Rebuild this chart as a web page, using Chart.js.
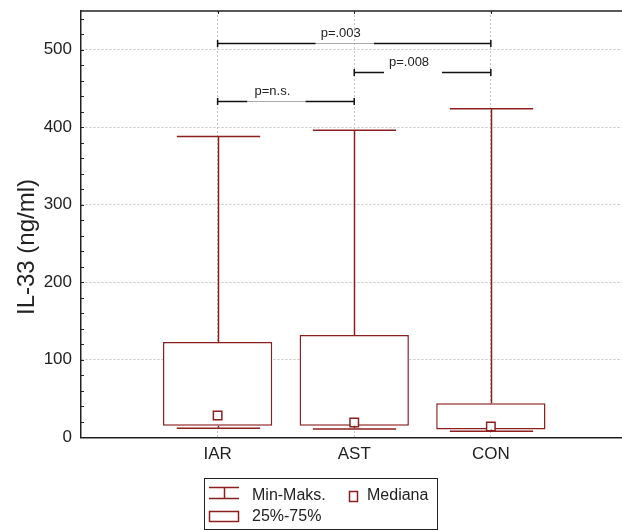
<!DOCTYPE html>
<html>
<head>
<meta charset="utf-8">
<script src="https://cdn.jsdelivr.net/npm/chart.js@4/dist/chart.umd.min.js"></script>
<style>
  html, body { margin: 0; padding: 0; background: #fff; }
  #myChart { display: block; }
</style>
</head>
<body>
<canvas id="myChart" width="622" height="530"></canvas>
<script>
// ==== chart data ====
const groups = ["IAR", "AST", "CON"];
const minVals = [13, 12, 9];
const q1Vals = [15, 15, 10];
const medianVals = [28, 19, 14];
const q3Vals = [123, 132, 44];
const maxVals = [388, 396, 424];
const yTicks = [0, 100, 200, 300, 400, 500];

// pairwise comparisons: [group a, group b], p label, bracket level (ng/ml)
const compPairs = [["IAR", "AST"], ["AST", "CON"], ["IAR", "CON"]];
const compLabels = ["p=n.s.", "p=.008", "p=.003"];
const compLevels = [434, 471, 509];

const FONT = "'Liberation Sans', Arial, Helvetica, sans-serif";
const RED = "#8c1f1f";
const INK = "#222";
const GRID = "#c4c4c4";

const pos = (name) => groups.indexOf(name) + 1;

// ==== whiskers, brackets, frame and legend ====
const extrasPlugin = {
    id: "extras",
    afterDatasetsDraw(chart, args, opts) {
        const { ctx, scales: { x, y } } = chart;
        ctx.save();
        ctx.strokeStyle = RED;
        ctx.lineWidth = 1.5;
        groups.forEach((g, i) => {
            const cx = Math.round(x.getPixelForValue(i + 1)) + 0.5;
            const half = x.getPixelForValue(i + 1 + opts.capWidth / 2) - x.getPixelForValue(i + 1);
            const yMax = y.getPixelForValue(maxVals[i]);
            const yQ3 = y.getPixelForValue(q3Vals[i]);
            const yQ1 = y.getPixelForValue(q1Vals[i]);
            const yMin = y.getPixelForValue(minVals[i]);
            ctx.beginPath();
            ctx.moveTo(cx, yQ3); ctx.lineTo(cx, yMax);
            ctx.moveTo(cx - half, yMax); ctx.lineTo(cx + half, yMax);
            ctx.moveTo(cx, yQ1); ctx.lineTo(cx, yMin);
            ctx.moveTo(cx - half, yMin + 1); ctx.lineTo(cx + half, yMin + 1);
            ctx.stroke();
        });

        // significance brackets
        ctx.font = `13px ${FONT}`;
        ctx.textAlign = "center";
        ctx.textBaseline = "alphabetic";
        compPairs.forEach((pair, i) => {
            const x1 = x.getPixelForValue(pos(pair[0]));
            const x2 = x.getPixelForValue(pos(pair[1]));
            const ly = Math.round(y.getPixelForValue(compLevels[i])) + 0.5;
            const tc = (x1 + x2) / 2 - 13.5;
            ctx.strokeStyle = "#111";
            ctx.lineWidth = 1.5;
            ctx.beginPath();
            ctx.moveTo(x1, ly); ctx.lineTo(tc - 25, ly);
            ctx.moveTo(tc + 33, ly); ctx.lineTo(x2, ly);
            ctx.moveTo(x1, ly - 3.5); ctx.lineTo(x1, ly + 3.5);
            ctx.moveTo(x2, ly - 3.5); ctx.lineTo(x2, ly + 3.5);
            ctx.stroke();
            if (opts.gapColors[i]) {
                ctx.strokeStyle = opts.gapColors[i];
                ctx.lineWidth = 1;
                ctx.beginPath();
                ctx.moveTo(tc - 25, ly); ctx.lineTo(tc + 33, ly);
                ctx.stroke();
            }
            ctx.fillStyle = INK;
            ctx.fillText(compLabels[i], tc, ly - 7);
        });
        ctx.restore();
    },
    afterDraw(chart) {
        const { ctx, chartArea: a, scales: { x, y } } = chart;
        ctx.save();
        // top frame line + ticks
        ctx.strokeStyle = INK;
        ctx.lineWidth = 1.5;
        ctx.beginPath();
        ctx.moveTo(a.left, a.top); ctx.lineTo(a.right, a.top);
        ctx.stroke();
        ctx.lineWidth = 1;
        ctx.beginPath();
        groups.forEach((g, i) => {
            const cx = Math.round(x.getPixelForValue(i + 1)) + 0.5;
            ctx.moveTo(cx, a.top); ctx.lineTo(cx, a.top + 3);
        });
        // minor ticks on the y axis
        for (let v = 20; v <= 540; v += 20) {
            const py = Math.round(y.getPixelForValue(v)) + 0.5;
            ctx.moveTo(a.left, py); ctx.lineTo(a.left + 3, py);
        }
        ctx.stroke();

        // y axis title
        ctx.fillStyle = INK;
        ctx.font = `24px ${FONT}`;
        ctx.textAlign = "center";
        ctx.textBaseline = "middle";
        ctx.translate(27, 247);
        ctx.rotate(-Math.PI / 2);
        ctx.fillText("IL-33 (ng/ml)", 0, 0);
        ctx.setTransform(1, 0, 0, 1, 0, 0);

        // legend
        ctx.strokeStyle = INK;
        ctx.lineWidth = 1;
        ctx.strokeRect(204.5, 478.5, 233, 51);
        ctx.strokeStyle = RED;
        ctx.lineWidth = 1.5;
        ctx.beginPath();
        ctx.moveTo(209, 487.5); ctx.lineTo(239, 487.5);
        ctx.moveTo(209, 498.5); ctx.lineTo(239, 498.5);
        ctx.moveTo(224.5, 487.5); ctx.lineTo(224.5, 498.5);
        ctx.stroke();
        ctx.strokeRect(209.5, 511.5, 29, 10);
        ctx.strokeRect(349.5, 491.5, 8, 10);
        ctx.fillStyle = INK;
        ctx.font = `16px ${FONT}`;
        ctx.textAlign = "left";
        ctx.textBaseline = "alphabetic";
        ctx.fillText("Min-Maks.", 252, 500);
        ctx.fillText("Mediana", 367, 500);
        ctx.fillText("25%-75%", 252, 521);
        ctx.restore();
    }
};

const boxData = groups.map((g, i) => ({ x: i + 1, y: [q1Vals[i], q3Vals[i]] }));
const medianData = groups.map((g, i) => ({ x: i + 1, y: medianVals[i] }));

const config = {
    type: "bar",
    data: {
        datasets: [
            {
                type: "scatter",
                label: "Mediana",
                data: medianData,
                pointStyle: "rect",
                pointRadius: 6,
                pointHoverRadius: 6,
                borderColor: RED,
                backgroundColor: "#fff",
                borderWidth: 1.5,
                order: 0
            },
            {
                label: "25%-75%",
                data: boxData,
                backgroundColor: "#fff",
                borderColor: RED,
                borderWidth: 1.5,
                borderSkipped: false,
                categoryPercentage: 1,
                barPercentage: 0.8,
                order: 1
            }
        ]
    },
    options: {
        responsive: false,
        animation: false,
        devicePixelRatio: 1,
        layout: { autoPadding: false, padding: { top: 11, right: 0, left: 0, bottom: 0 } },
        plugins: {
            legend: { display: false },
            tooltip: { enabled: false },
            extras: { capWidth: 0.61, gapColors: ["#a8a8a8", null, "#a8a8a8"] }
        },
        scales: {
            x: {
                type: "linear",
                offset: false,
                min: 0,
                max: 3.96,
                afterBuildTicks: (s) => { s.ticks = groups.map((g, i) => ({ value: i + 1 })); },
                afterFit: (s) => {
                    s.height = 92.7;
                    s.paddingLeft = 0;
                    s.paddingRight = 0;
                },
                ticks: {
                    callback: (v) => groups[v - 1],
                    font: { size: 17, family: FONT },
                    color: INK,
                    padding: 7,
                    maxRotation: 0,
                    autoSkip: false
                },
                grid: { offset: false, color: GRID, lineWidth: 1, drawTicks: false },
                border: { color: INK, width: 1.5, dash: [2, 2] }
            },
            y: {
                min: 0,
                max: 550,
                afterBuildTicks: (s) => { s.ticks = yTicks.map(v => ({ value: v })); },
                afterFit: (s) => {
                    s.width = 81;
                    s.paddingTop = 0;
                    s.paddingBottom = 0;
                },
                ticks: {
                    font: { size: 17, family: FONT },
                    color: INK,
                    padding: 9
                },
                grid: {
                    color: (c) => (c.tick && c.tick.value === 0) ? "rgba(0,0,0,0)" : GRID,
                    lineWidth: 1,
                    drawTicks: false
                },
                border: { color: INK, width: 1.5, dash: [2, 2] }
            }
        }
    },
    plugins: [extrasPlugin]
};

let myChart = new Chart(document.getElementById("myChart"), config);
</script>
</body>
</html>
